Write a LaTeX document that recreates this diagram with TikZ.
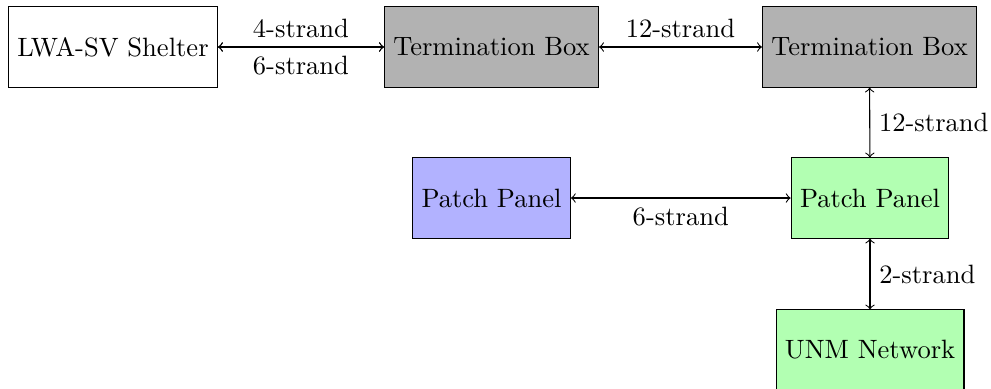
\documentclass[tikz,border=0pt]{standalone}
\begin{document}
\begin{tikzpicture}[x=0.377pt,y=-0.377pt,
  box/.style={draw, minimum height=30.2pt, inner sep=3.333pt},
  link/.style={<->}]
\useasboundingbox (0,0) rectangle (991,388);
\node[box] (shelter) at (113,47) {LWA-SV Shelter};
\node[box, fill=black!30] (tb1) at (491.5,47) {Termination Box};
\node[box, fill=black!30] (tb2) at (869.5,47) {Termination Box};
\node[box, fill=blue!30] (ppb) at (491.5,198) {Patch Panel};
\node[box, fill=green!30] (ppg) at (870,198) {Patch Panel};
\node[box, fill=green!30] (unm) at (870,350) {UNM Network};
\draw[link] (shelter) -- node[above] {4-strand} (tb1);
\draw[link] (shelter) -- node[below] {6-strand} (tb1);
\draw[link] (tb1) -- node[above] {12-strand} (tb2);
\draw[link] (tb2) -- node[right] {12-strand} (ppg);
\draw[link] (ppb) -- node[below] {6-strand} (ppg);
\draw[link] (ppg) -- node[right] {2-strand} (unm);
\end{tikzpicture}
\end{document}
